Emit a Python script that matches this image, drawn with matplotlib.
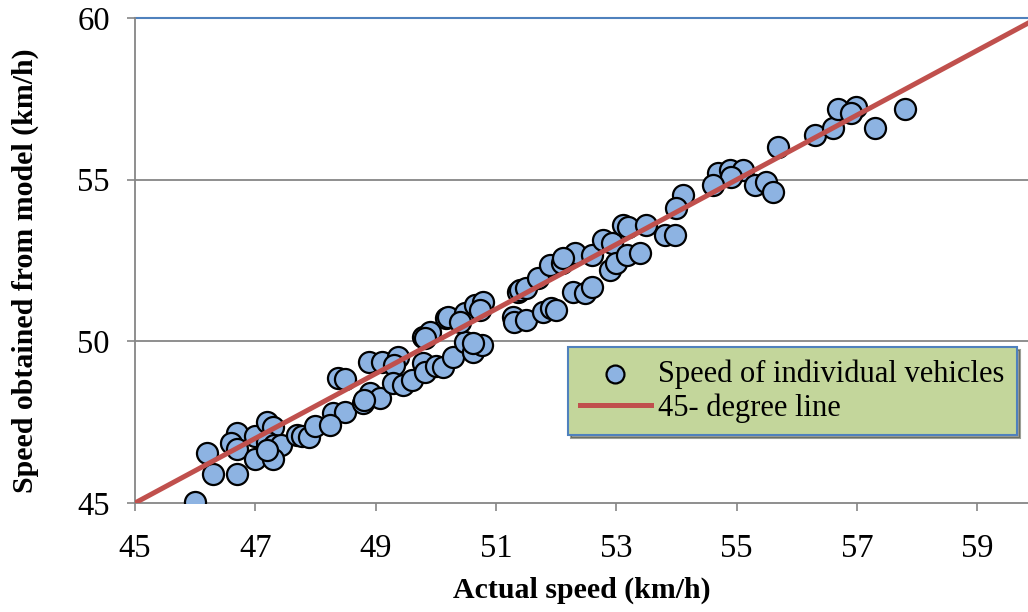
"""
Scatter of model speed vs actual speed with 45-degree reference line.
"""

import numpy as np
import matplotlib
matplotlib.use("Agg")
import matplotlib.pyplot as plt

# data (km/h)
actual_speed = [
    46.0, 46.19, 46.29, 46.69, 46.69, 46.59, 46.7, 46.99, 46.99, 47.19,
    47.3, 47.19, 47.2, 47.31, 47.42, 47.3, 47.19, 47.69, 47.77, 47.89,
    47.99, 48.29, 48.49, 48.24, 48.38, 48.49, 48.79, 48.9, 49.07, 48.8,
    48.89, 49.1, 49.37, 49.31, 49.29, 49.46, 49.6, 49.79, 49.82, 50.01,
    50.12, 50.29, 49.79, 49.9, 49.82, 50.17, 50.2, 50.48, 50.65, 50.79,
    50.73, 50.48, 50.62, 50.76, 50.62, 50.4, 51.28, 51.3, 51.36, 51.5,
    51.4, 51.5, 51.7, 51.78, 51.92, 52.0, 51.89, 52.09, 52.31, 52.11,
    52.28, 52.48, 52.59, 52.59, 52.78, 52.92, 52.89, 53.0, 53.17, 53.39,
    53.11, 53.2, 53.5, 53.8, 53.97, 54.11, 53.99, 54.69, 54.88, 55.1,
    54.91, 54.61, 55.3, 55.49, 55.6, 55.69, 56.3, 56.6, 56.68, 56.99,
    56.9, 57.29, 57.79,
]
model_speed = [
    45.04, 46.54, 45.9, 45.9, 47.16, 46.87, 46.66, 46.35, 47.07, 47.51,
    47.36, 46.72, 46.9, 46.79, 46.79, 46.35, 46.64, 47.1, 47.07, 47.03,
    47.38, 47.77, 47.82, 47.41, 48.86, 48.83, 48.08, 48.39, 48.24, 48.2,
    49.37, 49.37, 49.53, 49.27, 48.7, 48.65, 48.8, 49.32, 49.06, 49.24,
    49.22, 49.53, 50.14, 50.3, 50.09, 50.71, 50.76, 50.87, 51.12, 51.23,
    50.97, 49.99, 49.68, 49.89, 49.94, 50.6, 50.76, 50.61, 51.54, 50.66,
    51.59, 51.64, 51.95, 50.92, 51.02, 50.97, 52.36, 52.41, 52.72, 52.57,
    51.54, 51.49, 51.69, 52.67, 53.13, 53.03, 52.21, 52.41, 52.67, 52.72,
    53.6, 53.55, 53.6, 53.29, 53.29, 54.53, 54.11, 55.2, 55.3, 55.3,
    55.09, 54.84, 54.84, 54.94, 54.63, 56.02, 56.38, 56.59, 57.2, 57.26,
    57.05, 56.59, 57.18,
]
line_ends = [45, 60]
x_ticks = [45, 47, 49, 51, 53, 55, 57, 59]
y_ticks = [45, 50, 55, 60]

plt.rcParams['font.family'] = ['Liberation Serif', 'DejaVu Serif']

grid_gray = '#868686'

fig = plt.figure(figsize=(10.28, 6.12), dpi=100)
ax = fig.add_axes([0.1313, 0.1781, 0.8687, 0.7925])

# horizontal gridlines (top one drawn blue like the original border)
for y in [50, 55]:
    ax.axhline(y, color=grid_gray, lw=1.3, zorder=0)
ax.axhline(60, color='#4F81BD', lw=1.5, zorder=0, clip_on=False)

ax.scatter(actual_speed, model_speed, s=230, c='#8DB3E2', edgecolors='black',
           linewidths=1.6, zorder=3, label='Speed of individual vehicles')
ax.plot(line_ends, line_ends, color='#C0504D', lw=3.6, zorder=4,
        label='45- degree line')

ax.set_xlim(45, 59.84)
ax.set_ylim(45, 60)
ax.set_xticks(x_ticks)
ax.set_yticks(y_ticks)
ax.tick_params(labelsize=23.5, length=6, width=1.2, color=grid_gray, direction='out')
ax.tick_params(axis='x', pad=16)
ax.tick_params(axis='y', pad=12)

for side in ['top', 'right']:
    ax.spines[side].set_visible(False)
for side in ['left', 'bottom']:
    ax.spines[side].set_color(grid_gray)
    ax.spines[side].set_linewidth(1.3)

ax.set_xlabel('Actual speed (km/h)', fontsize=21.5, fontweight='bold')
ax.set_ylabel('Speed obtained from model (km/h)', fontsize=21.5, fontweight='bold')
ax.xaxis.set_label_coords(0.5, -0.152)
ax.yaxis.set_label_coords(-0.108, 0.478)

leg = ax.legend(loc='upper left', bbox_to_anchor=(0.485, 0.3216), borderaxespad=0,
                fontsize=22, fancybox=False, shadow=True, framealpha=1,
                handlelength=2.3, handletextpad=0.25, borderpad=0.4,
                labelspacing=0.15, markerscale=0.85)
leg.get_frame().set_facecolor('#C3D69B')
leg.get_frame().set_edgecolor('#4F81BD')
leg.get_frame().set_linewidth(1.5)

fig.savefig('out.png', dpi=100)
